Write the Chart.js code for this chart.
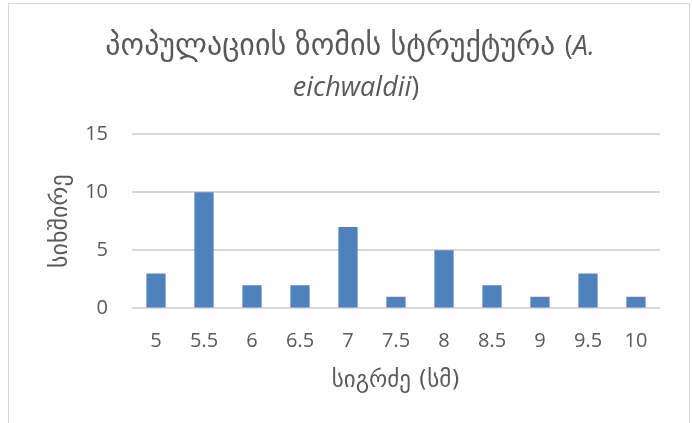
<!DOCTYPE html>
<html>
<head>
<meta charset="utf-8">
<script src="https://cdn.jsdelivr.net/npm/chart.js@4"></script>
<style>
  html, body { margin: 0; padding: 0; background: #fff; }
  #wrap { position: absolute; left: 0; top: 0; width: 692px; height: 423px; }
</style>
</head>
<body>
<div id="wrap"><canvas id="sizeChart" width="692" height="423"></canvas></div>
<script>
const lengths = ['5', '5.5', '6', '6.5', '7', '7.5', '8', '8.5', '9', '9.5', '10'];
const counts = [3, 10, 2, 2, 7, 1, 5, 2, 1, 3, 1];
const yTicks = [0, 5, 10, 15];

const FONT = '"Open Sans", "DejaVu Sans", sans-serif';
const GEO = '"DejaVu Sans", sans-serif';
const GREY = '#595959';

// frame around the chart and the two-line title with italic species name
const framePlugin = {
    id: 'frame',
    beforeDraw(chart) {
        const ctx = chart.ctx;
        ctx.save();
        ctx.fillStyle = '#ffffff';
        ctx.fillRect(0, 0, chart.width, chart.height);
        ctx.strokeStyle = '#d9d9d9';
        ctx.lineWidth = 1;
        ctx.strokeRect(8.5, 3.5, 681, 440);
        ctx.restore();
    },
    afterDraw(chart) {
        const ctx = chart.ctx;
        // [text, font]
        const lines = [
            [['პოპულაციის ზომის სტრუქტურა ', '30px ' + GEO], ['(', '27px ' + FONT], ['A.', 'italic 27px ' + FONT]],
            [['eichwaldii', 'italic 27px ' + FONT], [')', '27px ' + FONT]]
        ];
        const ys = [47, 88];
        const cxs = [350, 356];
        ctx.save();
        ctx.fillStyle = GREY;
        ctx.textBaseline = 'middle';
        ctx.textAlign = 'left';
        lines.forEach((parts, i) => {
            let total = 0;
            parts.forEach(p => {
                ctx.font = p[1];
                total += ctx.measureText(p[0]).width;
            });
            let x = cxs[i] - total / 2;
            parts.forEach(p => {
                ctx.font = p[1];
                ctx.fillText(p[0], x, ys[i]);
                x += ctx.measureText(p[0]).width;
            });
        });
        ctx.restore();
    }
};

new Chart(document.getElementById('sizeChart'), {
    type: 'bar',
    data: {
        labels: lengths,
        datasets: [{
            data: counts,
            backgroundColor: '#4f81bd',
            borderColor: '#4f81bd',
            borderWidth: 0,
            categoryPercentage: 1,
            barPercentage: 0.4
        }]
    },
    options: {
        responsive: false,
        animation: false,
        layout: { padding: { top: 134, right: 32, bottom: 28, left: 46 } },
        plugins: {
            legend: { display: false },
            title: { display: false },
            tooltip: { enabled: false }
        },
        scales: {
            x: {
                grid: { display: false, drawTicks: false },
                border: { display: false },
                ticks: {
                    color: GREY,
                    font: { family: FONT, size: 20 },
                    padding: 21,
                    maxRotation: 0,
                    autoSkip: false
                },
                title: {
                    display: true,
                    text: 'სიგრძე (სმ)',
                    color: GREY,
                    font: { family: GEO, size: 23 },
                    padding: { top: -7, bottom: 0 }
                }
            },
            y: {
                min: 0,
                max: 15,
                afterBuildTicks(scale) {
                    scale.ticks = yTicks.map(v => ({ value: v }));
                },
                afterFit(scale) {
                    scale.width = 86;
                },
                grid: { color: '#d9d9d9', lineWidth: 2, drawTicks: false },
                border: { display: false },
                ticks: {
                    color: GREY,
                    font: { family: FONT, size: 20 },
                    padding: 24
                },
                title: {
                    display: true,
                    text: 'სიხშირე',
                    color: GREY,
                    font: { family: GEO, size: 24 },
                    padding: { top: 0, bottom: 0 }
                }
            }
        }
    },
    plugins: [framePlugin]
});
</script>
</body>
</html>
